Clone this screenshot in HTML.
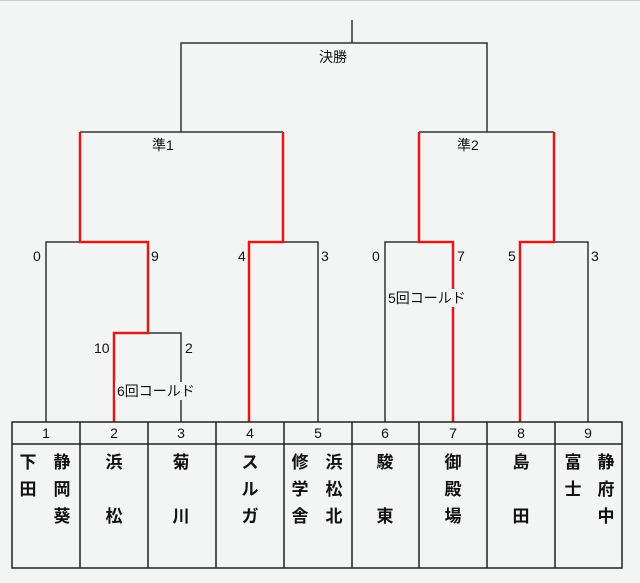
<!DOCTYPE html>
<html><head><meta charset="utf-8"><style>
html,body{margin:0;padding:0;background:#f3f4f4;}
svg{display:block}
text{font-family:"Liberation Sans","Noto Sans CJK JP",sans-serif;fill:#111}
.n{font-size:17px;font-weight:bold;text-anchor:middle}
.s{font-size:14px}
</style></head><body>
<svg width="640" height="583" viewBox="0 0 640 583" xmlns="http://www.w3.org/2000/svg">
<rect width="640" height="583" fill="#f3f4f4"/>
<line x1="0" y1="0.5" x2="640" y2="0.5" stroke="#ccc"/>
<g fill="none" stroke="#333" stroke-width="1.5">
<path d="M352 20V43M181 132V43H487V132"/>
<path d="M80 132H283M419 132H554"/>
<path d="M46 422V242H80M283 242H318V422"/>
<path d="M148 333H181V422"/>
<path d="M385 422V242H419M554 242H588V422"/>
</g>
<g fill="none" stroke="#e01818" stroke-width="2.5">
<path d="M114 422V333H148V242H80V132"/>
<path d="M249 422V242H283V132"/>
<path d="M453 422V242H419V132"/>
<path d="M520 422V242H554V132"/>
</g>
<rect x="115" y="382" width="88" height="18" fill="#f3f4f4"/>
<rect x="386" y="289" width="94" height="18" fill="#f3f4f4"/>
<text class="s" x="117" y="396">6回コールド</text>
<text class="s" x="388" y="303">5回コールド</text>
<text class="s" x="319" y="62">決勝</text>
<text class="s" x="152" y="150">準1</text>
<text class="s" x="457" y="150">準2</text>
<text class="s" x="33" y="261">0</text>
<text class="s" x="151" y="261">9</text>
<text class="s" x="238" y="261">4</text>
<text class="s" x="321" y="261">3</text>
<text class="s" x="372" y="261">0</text>
<text class="s" x="457" y="261">7</text>
<text class="s" x="508" y="261">5</text>
<text class="s" x="591" y="261">3</text>
<text class="s" x="94" y="353">10</text>
<text class="s" x="185" y="353">2</text>
<g fill="none" stroke="#222" stroke-width="1.5">
<rect x="12" y="422" width="610" height="146"/>
<line x1="12" y1="444" x2="622" y2="444"/>
<path d="M80 422V568M148 422V568M216 422V568M284 422V568M352 422V568M419 422V568M487 422V568M555 422V568"/>
</g>
<g class="s" text-anchor="middle">
<text x="46" y="438">1</text><text x="114" y="438">2</text><text x="181" y="438">3</text>
<text x="250" y="438">4</text><text x="318" y="438">5</text><text x="385" y="438">6</text>
<text x="453" y="438">7</text><text x="521" y="438">8</text><text x="588" y="438">9</text>
</g>
<g class="n">
<text x="28" y="468">下</text><text x="28" y="495">田</text>
<text x="62" y="468">静</text><text x="62" y="495">岡</text><text x="62" y="522">葵</text>
<text x="114" y="468">浜</text><text x="114" y="522">松</text>
<text x="181" y="468">菊</text><text x="181" y="522">川</text>
<text x="250" y="468">ス</text><text x="250" y="495">ル</text><text x="250" y="522">ガ</text>
<text x="300" y="468">修</text><text x="300" y="495">学</text><text x="300" y="522">舎</text>
<text x="334" y="468">浜</text><text x="334" y="495">松</text><text x="334" y="522">北</text>
<text x="385" y="468">駿</text><text x="385" y="522">東</text>
<text x="453" y="468">御</text><text x="453" y="495">殿</text><text x="453" y="522">場</text>
<text x="521" y="468">島</text><text x="521" y="522">田</text>
<text x="573" y="468">富</text><text x="573" y="495">士</text>
<text x="606" y="468">静</text><text x="606" y="495">府</text><text x="606" y="522">中</text>
</g>
</svg>
</body></html>
